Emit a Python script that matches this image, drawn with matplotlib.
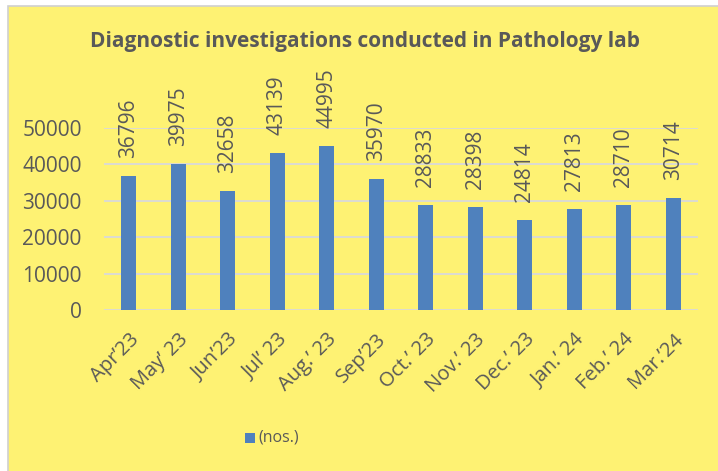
import matplotlib.pyplot as plt
from matplotlib.patches import Rectangle

months = ["Apr\u201923", "May\u2019 23", "Jun\u201923", "Jul\u2019 23", "Aug.\u2019 23", "Sep\u201923",
          "Oct.\u2019 23", "Nov.\u2019 23", "Dec.\u2019 23", "Jan.\u2019 24", "Feb.\u2019 24", "Mar.\u201924"]
counts = [36796, 39975, 32658, 43139, 44995, 35970, 28833, 28398, 24814, 27813, 28710, 30714]
yticks = [0, 10000, 20000, 30000, 40000, 50000]

plt.rcParams['font.family'] = ['Open Sans', 'DejaVu Sans']
bg = '#FEF273'
txt = '#595959'
blue = '#4F81BD'

W, H = 718, 471
fig = plt.figure(figsize=(W / 100, H / 100), dpi=100)
fig.patch.set_facecolor('white')

# yellow chart panel with thin gray border
fig.patches.append(Rectangle((8 / W, -0.01), 1.0, 1 - 6 / H + 0.01, transform=fig.transFigure,
                             facecolor=bg, edgecolor='#D0D0D0', linewidth=1.2, zorder=-5))

ax = fig.add_axes([104 / W, (H - 310) / H, (698 - 104) / W, (310 - 128) / H])
ax.set_facecolor('none')
ax.set_zorder(2)

x = range(len(months))
ax.bar(x, counts, width=0.3, color=blue, zorder=2)
ax.set_xlim(-0.5, len(months) - 0.5)
ax.set_ylim(0, 50000)
ax.set_yticks(yticks)
ax.set_yticklabels([str(v) for v in yticks], fontsize=15, color=txt)
ax.set_xticks(list(x))
ax.set_xticklabels(months, rotation=45, ha='right', rotation_mode='anchor', fontsize=14.5, color=txt)
ax.tick_params(length=0)
ax.tick_params(axis='y', pad=16)
ax.tick_params(axis='x', pad=14)
ax.grid(axis='y', color='#D9D9D9', linewidth=1.3, zorder=1)
ax.set_axisbelow(True)
for s in ax.spines.values():
    s.set_visible(False)

for i, v in enumerate(counts):
    ax.annotate(str(v), (i, v), xytext=(0, 13), textcoords='offset points', rotation=90,
                ha='center', va='bottom', fontsize=15, color=txt, annotation_clip=False)

fig.text(365 / W, 1 - 42 / H, "Diagnostic investigations conducted in Pathology lab",
         ha='center', va='center', fontsize=15, fontweight='bold', color=txt)

# legend
fig.patches.append(Rectangle((245 / W, 1 - 443 / H), 10 / W, 10 / H, transform=fig.transFigure,
                             facecolor=blue, edgecolor='none'))
fig.text(258 / W, 1 - 438 / H, "(nos.)", ha='left', va='center', fontsize=11.5, color=txt)

fig.savefig('out.png', dpi=100)
